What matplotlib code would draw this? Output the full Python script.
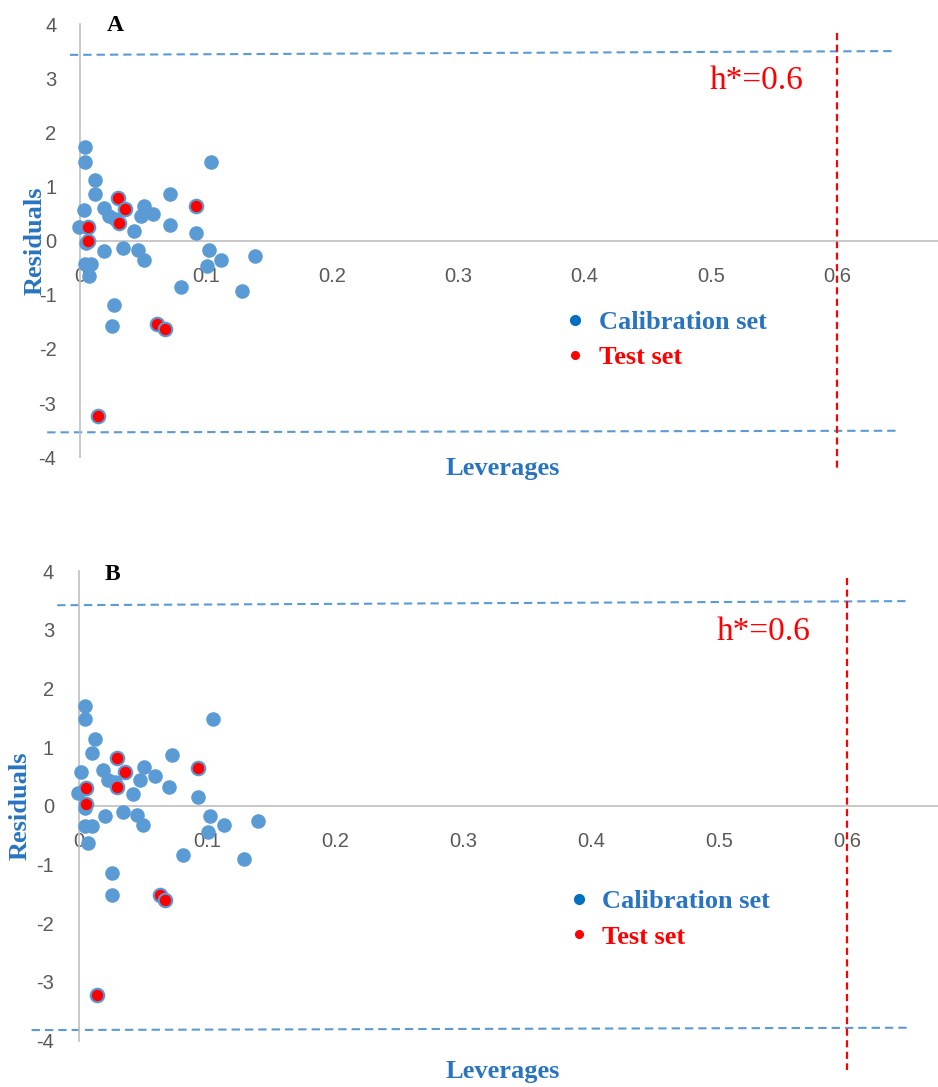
import matplotlib.pyplot as plt
from matplotlib.lines import Line2D

plt.rcParams['axes.unicode_minus'] = False

# panel A - calibration set
cal_a_lev = [0.004, 0.004, 0.012, 0.012, 0.003, -0.001, 0.005, 0.004, 0.009, 0.007, 0.019,
             0.023, 0.028, 0.043, 0.019, 0.034, 0.046, 0.051, 0.051, 0.048, 0.058, 0.071,
             0.071, 0.092, 0.104, 0.102, 0.101, 0.112, 0.139, 0.080, 0.128, 0.027, 0.025]
cal_a_res = [1.72, 1.46, 1.12, 0.87, 0.57, 0.25, -0.05, -0.43, -0.43, -0.66, 0.60,
             0.46, 0.40, 0.18, -0.20, -0.13, -0.18, -0.36, 0.64, 0.45, 0.49, 0.87,
             0.29, 0.14, 1.46, -0.18, -0.46, -0.35, -0.28, -0.86, -0.93, -1.18, -1.57]
# panel A - test set
test_a_lev = [0.006, 0.006, 0.030, 0.036, 0.031, 0.092, 0.061, 0.067, 0.014]
test_a_res = [0.26, -0.01, 0.79, 0.58, 0.32, 0.64, -1.53, -1.64, -3.24]

# panel B - calibration set
cal_b_lev = [0.005, 0.005, 0.0125, 0.0105, 0.0013, -0.0005, 0.005, 0.005, 0.010, 0.007, 0.019,
             0.023, 0.028, 0.0425, 0.020, 0.034, 0.045, 0.050, 0.051, 0.048, 0.059, 0.0725,
             0.0707, 0.093, 0.105, 0.102, 0.101, 0.113, 0.140, 0.081, 0.129, 0.0255, 0.0255]
cal_b_res = [1.71, 1.48, 1.14, 0.91, 0.585, 0.216, -0.04, -0.35, -0.35, -0.625, 0.61,
             0.45, 0.40, 0.20, -0.18, -0.10, -0.16, -0.32, 0.66, 0.44, 0.51, 0.87,
             0.33, 0.16, 1.48, -0.18, -0.45, -0.32, -0.25, -0.84, -0.90, -1.15, -1.52]
# panel B - test set
test_b_lev = [0.0055, 0.0055, 0.030, 0.036, 0.030, 0.093, 0.063, 0.067, 0.014]
test_b_res = [0.30, 0.03, 0.81, 0.585, 0.33, 0.64, -1.52, -1.60, -3.22]

# residual limits (left end / right end of the drawn line) and warning leverage
limits_a = {"upper": (3.43, 3.50), "lower": (-3.54, -3.51)}
limits_b = {"upper": (3.42, 3.49), "lower": (-3.82, -3.78)}
h_star = 0.6

x_ticks = [0, 0.1, 0.2, 0.3, 0.4, 0.5, 0.6]
x_tick_labels = ["0", "0.1", "0.2", "0.3", "0.4", "0.5", "0.6"]
y_ticks = [-4, -3, -2, -1, 0, 1, 2, 3, 4]

BLUE = "#5B9BD5"
TXT_BLUE = "#2874C0"
SERIF = "Liberation Serif"

fig = plt.figure(figsize=(9.38, 10.87), dpi=100)
ax_a = fig.add_axes([0, 0.5584, 1, 0.4245])
ax_b = fig.add_axes([0, 0.0, 1, 0.4802])


def draw_panel(ax, cal_lev, cal_res, test_lev, test_res, limits, cfg):
    ax.set_xlim(cfg["xlim"])
    ax.set_ylim(cfg["ylim"])
    ax.scatter(cal_lev, cal_res, s=110, color=BLUE, linewidths=0, zorder=3)
    ax.scatter(test_lev, test_res, s=95, color="red", edgecolors=BLUE, linewidths=1.5, zorder=4)

    for key in ["upper", "lower"]:
        y0, y1 = limits[key]
        ax.plot(cfg["hline_x"][key], [y0, y1], color=BLUE, lw=1.5, dashes=(4, 2.4), zorder=2)
    ax.plot([h_star, h_star], cfg["vline_y"], color="red", lw=1.6, dashes=(3.2, 2.0),
            clip_on=False, zorder=2)

    for side in ["top", "right"]:
        ax.spines[side].set_visible(False)
    ax.spines["left"].set_position(("data", 0))
    ax.spines["bottom"].set_position(("data", 0))
    ax.spines["left"].set_bounds(-4, 4)
    ax.spines["bottom"].set_bounds(0, cfg["xlim"][1])
    for side in ["left", "bottom"]:
        ax.spines[side].set_color("#BFBFBF")
        ax.spines[side].set_linewidth(1.2)
    ax.set_xticks(x_ticks)
    ax.set_xticklabels(x_tick_labels)
    ax.set_yticks(y_ticks)
    ax.tick_params(length=0, labelsize=14.5, colors="#595959", labelfontfamily="Liberation Sans")
    ax.tick_params(axis="y", pad=cfg["ypad"])
    ax.tick_params(axis="x", pad=cfg["xpad"])
    ax.patch.set_visible(False)

    ax.text(cfg["letter_xy"][0], cfg["letter_xy"][1], cfg["letter"], fontsize=17, fontweight="bold",
            family=SERIF, ha="center", va="center")
    ax.text(cfg["res_xy"][0], cfg["res_xy"][1], "Residuals", fontsize=19, fontweight="bold",
            family=SERIF, color=TXT_BLUE, rotation=90, ha="center", va="center")
    ax.text(cfg["lev_xy"][0], cfg["lev_xy"][1], "Leverages", fontsize=19, fontweight="bold",
            family=SERIF, color=TXT_BLUE, ha="center", va="center")
    ax.text(cfg["h_xy"][0], cfg["h_xy"][1], "h*=0.6", fontsize=24, family=SERIF, color="red",
            ha="left", va="center")

    handles = [Line2D([], [], ls="", marker="o", ms=7, color="#0070C0"),
               Line2D([], [], ls="", marker="o", ms=5.5, color="red")]
    ax.legend(handles, ["Calibration set", "Test set"], loc="upper left",
              bbox_to_anchor=cfg["leg_xy"], bbox_transform=ax.transData, frameon=False,
              prop={"family": SERIF, "weight": "bold", "size": 19},
              labelcolor=[TXT_BLUE, "red"], handlelength=0.8, handletextpad=0.5,
              labelspacing=0.45, borderpad=0, borderaxespad=0)


cfg_a = {"xlim": (-0.0634, 0.680), "ylim": (-4.42, 4.1),
         "hline_x": {"upper": [-0.008, 0.645], "lower": [-0.026, 0.647]},
         "vline_y": [3.83, -4.22], "ypad": 17, "xpad": 19,
         "letter": "A", "letter_xy": (0.028, 3.98), "res_xy": (-0.0357, 0.0),
         "lev_xy": (0.335, -4.20), "h_xy": (0.499, 2.95), "leg_xy": (0.384, -1.29)}
cfg_b = {"xlim": (-0.0617, 0.671), "ylim": (-4.79, 4.105),
         "hline_x": {"upper": [-0.017, 0.648], "lower": [-0.037, 0.649]},
         "vline_y": [3.88, -4.5], "ypad": 18, "xpad": 19,
         "letter": "B", "letter_xy": (0.026, 3.95), "res_xy": (-0.046, 0.0),
         "lev_xy": (0.331, -4.53), "h_xy": (0.498, 2.96), "leg_xy": (0.382, -1.43)}

draw_panel(ax_a, cal_a_lev, cal_a_res, test_a_lev, test_a_res, limits_a, cfg_a)
draw_panel(ax_b, cal_b_lev, cal_b_res, test_b_lev, test_b_res, limits_b, cfg_b)

fig.savefig("out.png", dpi=100)
